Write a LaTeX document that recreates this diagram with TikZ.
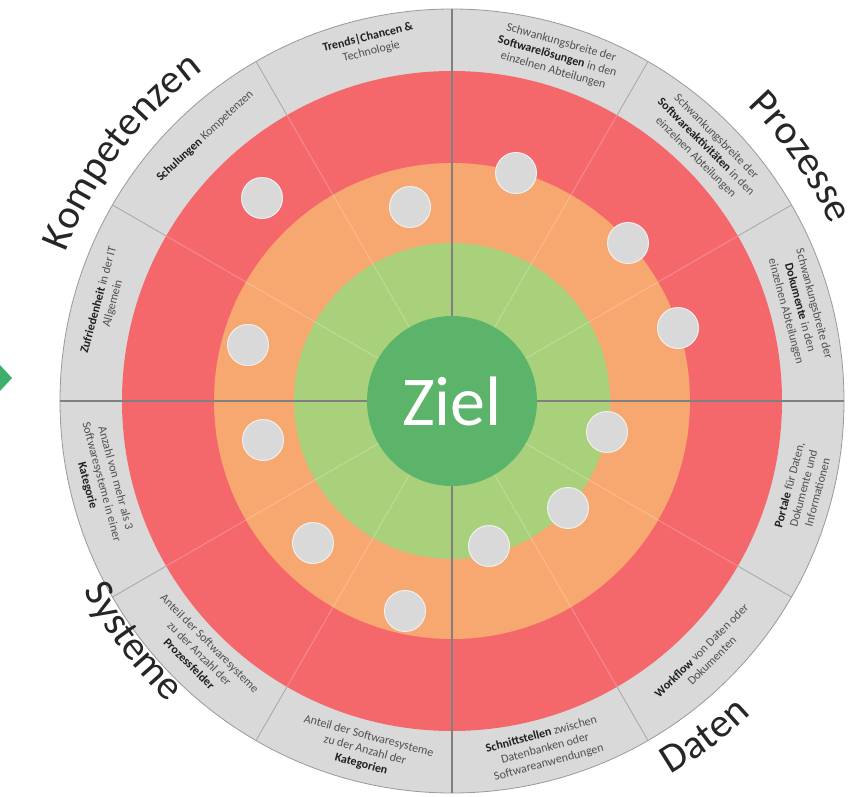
\documentclass[tikz,border=0pt]{standalone}
\usepackage{fontspec}
\setmainfont{Carlito}
\usetikzlibrary{decorations.text}
\definecolor{ringred}{HTML}{F4686C}
\definecolor{ringorange}{HTML}{F7A870}
\definecolor{ringlgreen}{HTML}{A9D17B}
\definecolor{ringdgreen}{HTML}{5CB46B}
\definecolor{ringgray}{HTML}{D9D9D9}
\definecolor{txtgray}{HTML}{505050}
\definecolor{txtbold}{HTML}{202020}
\definecolor{diamondgreen}{HTML}{3DB06B}
\newcommand\kw[1]{{\bfseries\color{txtbold}#1}}
\begin{document}
\begin{tikzpicture}[x=1pt,y=1pt,
  segtext/.style={align=center, font=\fontsize{12}{14.5}\selectfont, text=txtgray, inner sep=0pt},
  dot/.style={circle, fill=ringgray, draw=white!60!ringgray, line width=1pt, minimum size=41pt, inner sep=0pt},
  bigarc/.style={decorate, decoration={text along path, text align=center, text={|\fontsize{41}{41}\selectfont\color{black!85}|#1}}},
  seg/.style={gray!70, line width=0.8pt},
  axis/.style={black!50, line width=1.1pt},
  faint/.style={white, opacity=0.22, line width=1pt}]
\useasboundingbox (-452,-395) rectangle (407,401);
% rings
\fill[ringgray] (0,0) circle (392);
\draw[gray!80, line width=0.8pt] (0,0) circle (392);
\fill[ringred] (0,0) circle (330);
\fill[ringorange] (0,0) circle (238);
\fill[ringlgreen] (0,0) circle (158);
% sector lines
\foreach \a in {30,60,120,150,210,240,300,330} {
  \draw[faint] (\a:85) -- (\a:330);
  \draw[seg] (\a:330) -- (\a:392);
}
\foreach \a in {0,90,180,270} \draw[axis] (\a:85) -- (\a:392);
% centre
\node[circle, fill=ringdgreen, minimum size=170pt, inner sep=0pt, text=white,
  font=\fontsize{70}{70}\selectfont] (ziel) at (0,0) {Ziel};
% dots
\node[dot] (d1) at (-190,203) {};
\node[dot] (d2) at (-42,194) {};
\node[dot] (d3) at (64,228) {};
\node[dot] (d4) at (176,158) {};
\node[dot] (d5) at (226,73) {};
\node[dot] (d6) at (155,-31) {};
\node[dot] (d7) at (116,-107) {};
\node[dot] (d8) at (37,-145) {};
\node[dot] (d9) at (-47,-210) {};
\node[dot] (d10) at (-139,-142) {};
\node[dot] (d11) at (-189,-39) {};
\node[dot] (d12) at (-204,56) {};
% segment texts
\node[segtext, rotate=14] (s1) at (103:366) {\kw{Trends|Chancen \&}\\Technologie};
\node[segtext, rotate=-16] (s2) at (73:360) {Schwankungsbreite der\\\kw{Softwarelösungen} in den\\einzelnen Abteilungen};
\node[segtext, rotate=-45] (s3) at (45:359) {Schwankungsbreite der\\\kw{Softwareaktivitäten} in den\\einzelnen Abteilungen};
\node[segtext, rotate=-75] (s4) at (15:360) {Schwankungsbreite der\\\kw{Dokumente} in den\\einzelnen Abteilungen};
\node[segtext, rotate=75] (s5) at (-14:362) {\kw{Portale} für Daten,\\Dokumente und\\Informationen};
\node[segtext, rotate=45] (s6) at (-45:360) {\kw{Workflow} von Daten oder\\Dokumenten};
\node[segtext, rotate=15] (s7) at (-75:360) {\kw{Schnittstellen} zwischen\\Datenbanken oder\\Softwareanwendungen};
\node[segtext, rotate=-15] (s8) at (-104:360) {Anteil der Softwaresysteme\\zu der Anzahl der\\\kw{Kategorien}};
\node[segtext, rotate=-45] (s9) at (-135:357) {Anteil der Softwaresysteme\\zu der Anzahl der\\\kw{Prozessfelder}};
\node[segtext, rotate=-75] (s10) at (-167:360) {Anzahl von mehr als 3\\Softwaresysteme in einer\\\kw{Kategorie}};
\node[segtext, rotate=75] (s11) at (164:360) {\kw{Zufriedenheit} in der IT\\Allgemein};
\node[segtext, rotate=43] (s12) at (133:362) {\kw{Schulungen} Kompetenzen};
% big labels
\path[bigarc=Kompetenzen] (178:414) arc[start angle=178, end angle=108, radius=414];
\path[bigarc=Prozesse] (70:418) arc[start angle=70, end angle=0, radius=418];
\path[bigarc=Systeme] (182:414) arc[start angle=182, end angle=252, radius=414];
\path[bigarc=Daten] (272:433) arc[start angle=272, end angle=342, radius=433];
% partial diamond at left edge
\fill[diamondgreen] (-464,23) -- (-452,36) -- (-440,23) -- (-452,10) -- cycle;
\end{tikzpicture}
\end{document}
